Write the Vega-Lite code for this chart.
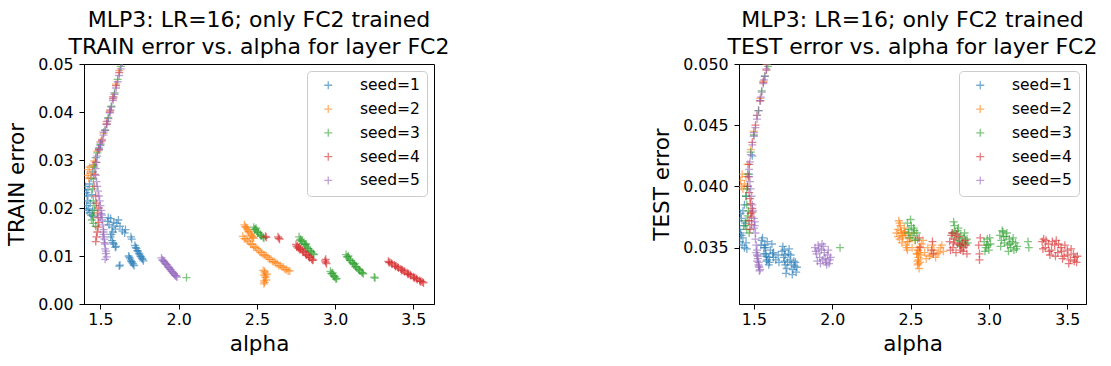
{
"$schema":"https://vega.github.io/schema/vega-lite/v6.json",
"background":"white",
"padding":{"left":6,"top":8,"right":5,"bottom":5},
"datasets":{"pts":[
{"s":"seed=1","a":1.405,"tr":0.0245,"te":0.0372},{"s":"seed=1","a":1.41,"tr":0.0232,"te":0.0365},{"s":"seed=1","a":1.415,"tr":0.0225,"te":0.0378},{"s":"seed=1","a":1.42,"tr":0.0215,"te":0.036},{"s":"seed=1","a":1.41,"tr":0.0205,"te":0.0355},{"s":"seed=1","a":1.425,"tr":0.0198,"te":0.0352},{"s":"seed=1","a":1.43,"tr":0.019,"te":0.0358},{"s":"seed=1","a":1.44,"tr":0.0185,"te":0.035},{"s":"seed=1","a":1.435,"tr":0.021,"te":0.0368},{"s":"seed=1","a":1.45,"tr":0.0195,"te":0.0354},{"s":"seed=1","a":1.42,"tr":0.0238,"te":0.0374},{"s":"seed=1","a":1.43,"tr":0.025,"te":0.038},{"s":"seed=1","a":1.44,"tr":0.0262,"te":0.0385},{"s":"seed=1","a":1.45,"tr":0.0275,"te":0.0392},{"s":"seed=1","a":1.46,"tr":0.029,"te":0.04},{"s":"seed=1","a":1.47,"tr":0.0305,"te":0.041},{"s":"seed=1","a":1.49,"tr":0.0325,"te":0.0425},{"s":"seed=1","a":1.455,"tr":0.0182,"te":0.0349},{"s":"seed=1","a":1.415,"tr":0.0195,"te":0.0362},{"s":"seed=1","a":1.445,"tr":0.0228,"te":0.037},
{"s":"seed=1","a":1.545,"tr":0.0172,"te":0.0352},{"s":"seed=1","a":1.555,"tr":0.0165,"te":0.0358},{"s":"seed=1","a":1.565,"tr":0.0178,"te":0.0345},{"s":"seed=1","a":1.575,"tr":0.016,"te":0.035},{"s":"seed=1","a":1.585,"tr":0.017,"te":0.0355},{"s":"seed=1","a":1.595,"tr":0.0156,"te":0.0342},{"s":"seed=1","a":1.605,"tr":0.0168,"te":0.0348},{"s":"seed=1","a":1.615,"tr":0.0175,"te":0.0353},{"s":"seed=1","a":1.625,"tr":0.0162,"te":0.0346},{"s":"seed=1","a":1.64,"tr":0.0152,"te":0.034},{"s":"seed=1","a":1.655,"tr":0.0148,"te":0.0344},{"s":"seed=1","a":1.66,"tr":0.0155,"te":0.0338},{"s":"seed=1","a":1.55,"tr":0.018,"te":0.0356},{"s":"seed=1","a":1.58,"tr":0.015,"te":0.0339},
{"s":"seed=1","a":1.565,"tr":0.014,"te":0.035},{"s":"seed=1","a":1.575,"tr":0.0132,"te":0.0345},{"s":"seed=1","a":1.585,"tr":0.0125,"te":0.034},{"s":"seed=1","a":1.595,"tr":0.0118,"te":0.0336},{"s":"seed=1","a":1.57,"tr":0.0145,"te":0.0352},{"s":"seed=1","a":1.58,"tr":0.0128,"te":0.0343},{"s":"seed=1","a":1.6,"tr":0.012,"te":0.0338},
{"s":"seed=1","a":1.72,"tr":0.0122,"te":0.0345},{"s":"seed=1","a":1.73,"tr":0.0116,"te":0.034},{"s":"seed=1","a":1.74,"tr":0.011,"te":0.0336},{"s":"seed=1","a":1.75,"tr":0.0104,"te":0.0332},{"s":"seed=1","a":1.76,"tr":0.0098,"te":0.0335},{"s":"seed=1","a":1.77,"tr":0.0093,"te":0.033},{"s":"seed=1","a":1.725,"tr":0.0118,"te":0.0349},{"s":"seed=1","a":1.745,"tr":0.0106,"te":0.0328},{"s":"seed=1","a":1.765,"tr":0.0095,"te":0.0338},{"s":"seed=1","a":1.68,"tr":0.01,"te":0.0347},{"s":"seed=1","a":1.69,"tr":0.0094,"te":0.0342},{"s":"seed=1","a":1.7,"tr":0.0088,"te":0.0336},{"s":"seed=1","a":1.71,"tr":0.0083,"te":0.0333},{"s":"seed=1","a":1.685,"tr":0.0097,"te":0.0351},{"s":"seed=1","a":1.705,"tr":0.0085,"te":0.0329},
{"s":"seed=1","a":1.735,"tr":0.0111,"te":0.0344},{"s":"seed=1","a":1.755,"tr":0.01,"te":0.0339},{"s":"seed=1","a":1.775,"tr":0.009,"te":0.0334},{"s":"seed=1","a":1.695,"tr":0.009,"te":0.0339},{"s":"seed=1","a":1.715,"tr":0.008,"te":0.0338},
{"s":"seed=1","a":1.62,"tr":0.0079,"te":0.0345},{"s":"seed=1","a":1.625,"tr":0.0081,"te":0.0342},{"s":"seed=1","a":1.695,"tr":0.014,"te":0.0348},{"s":"seed=1","a":1.7,"tr":0.0135,"te":0.0344},
{"s":"seed=2","a":1.415,"tr":0.0268,"te":0.0405},{"s":"seed=2","a":1.42,"tr":0.028,"te":0.04},{"s":"seed=2","a":1.425,"tr":0.0262,"te":0.041},{"s":"seed=2","a":1.43,"tr":0.0285,"te":0.0398},{"s":"seed=2","a":1.44,"tr":0.0272,"te":0.0402},{"s":"seed=2","a":1.45,"tr":0.0288,"te":0.0408},{"s":"seed=2","a":1.46,"tr":0.0298,"te":0.0418},{"s":"seed=2","a":1.48,"tr":0.0318,"te":0.043},{"s":"seed=2","a":1.5,"tr":0.0338,"te":0.0445},{"s":"seed=2","a":1.52,"tr":0.0356,"te":0.0458},{"s":"seed=2","a":1.54,"tr":0.038,"te":0.0472},{"s":"seed=2","a":1.56,"tr":0.0404,"te":0.0486},{"s":"seed=2","a":1.58,"tr":0.0432,"te":0.05},{"s":"seed=2","a":1.6,"tr":0.0458,"te":0.052},{"s":"seed=2","a":1.62,"tr":0.0486,"te":0.054},
{"s":"seed=2","a":2.42,"tr":0.0165,"te":0.0365},{"s":"seed=2","a":2.43,"tr":0.016,"te":0.037},{"s":"seed=2","a":2.44,"tr":0.0155,"te":0.0362},{"s":"seed=2","a":2.45,"tr":0.015,"te":0.0358},{"s":"seed=2","a":2.46,"tr":0.0146,"te":0.0366},{"s":"seed=2","a":2.47,"tr":0.0141,"te":0.036},{"s":"seed=2","a":2.48,"tr":0.0137,"te":0.0355},{"s":"seed=2","a":2.435,"tr":0.0158,"te":0.0368},
{"s":"seed=2","a":2.425,"tr":0.0161,"te":0.0372},{"s":"seed=2","a":2.445,"tr":0.0151,"te":0.0354},{"s":"seed=2","a":2.465,"tr":0.0143,"te":0.0362},{"s":"seed=2","a":2.475,"tr":0.0139,"te":0.035},
{"s":"seed=2","a":2.41,"tr":0.0141,"te":0.0362},{"s":"seed=2","a":2.43,"tr":0.0136,"te":0.0357},{"s":"seed=2","a":2.45,"tr":0.013,"te":0.036},{"s":"seed=2","a":2.47,"tr":0.0124,"te":0.0352},{"s":"seed=2","a":2.49,"tr":0.0118,"te":0.0355},{"s":"seed=2","a":2.51,"tr":0.0112,"te":0.035},{"s":"seed=2","a":2.53,"tr":0.0107,"te":0.0356},{"s":"seed=2","a":2.55,"tr":0.0102,"te":0.0348},{"s":"seed=2","a":2.57,"tr":0.0097,"te":0.0353},{"s":"seed=2","a":2.59,"tr":0.0093,"te":0.0346},{"s":"seed=2","a":2.61,"tr":0.0088,"te":0.035},{"s":"seed=2","a":2.63,"tr":0.0084,"te":0.0344},{"s":"seed=2","a":2.65,"tr":0.008,"te":0.0348},{"s":"seed=2","a":2.67,"tr":0.0076,"te":0.0345},{"s":"seed=2","a":2.69,"tr":0.0072,"te":0.035},{"s":"seed=2","a":2.71,"tr":0.0069,"te":0.0347},{"s":"seed=2","a":2.44,"tr":0.0133,"te":0.0364},{"s":"seed=2","a":2.5,"tr":0.0116,"te":0.0358},{"s":"seed=2","a":2.56,"tr":0.01,"te":0.0351},{"s":"seed=2","a":2.62,"tr":0.0086,"te":0.0343},
{"s":"seed=2","a":2.42,"tr":0.0136,"te":0.0359},{"s":"seed=2","a":2.46,"tr":0.0125,"te":0.0363},{"s":"seed=2","a":2.48,"tr":0.0119,"te":0.0348},{"s":"seed=2","a":2.52,"tr":0.0108,"te":0.0362},{"s":"seed=2","a":2.54,"tr":0.0103,"te":0.0345},{"s":"seed=2","a":2.58,"tr":0.0093,"te":0.0356},{"s":"seed=2","a":2.6,"tr":0.0089,"te":0.0341},{"s":"seed=2","a":2.64,"tr":0.008,"te":0.0352},{"s":"seed=2","a":2.66,"tr":0.0077,"te":0.0342},{"s":"seed=2","a":2.68,"tr":0.0072,"te":0.0346},{"s":"seed=2","a":2.7,"tr":0.0069,"te":0.0352},
{"s":"seed=2","a":2.54,"tr":0.007,"te":0.0345},{"s":"seed=2","a":2.55,"tr":0.0065,"te":0.034},{"s":"seed=2","a":2.545,"tr":0.006,"te":0.0336},{"s":"seed=2","a":2.555,"tr":0.0055,"te":0.0333},{"s":"seed=2","a":2.56,"tr":0.005,"te":0.0338},{"s":"seed=2","a":2.55,"tr":0.0045,"te":0.0342},{"s":"seed=2","a":2.545,"tr":0.0042,"te":0.0348},{"s":"seed=2","a":2.565,"tr":0.0062,"te":0.0344},{"s":"seed=2","a":2.55,"tr":0.0068,"te":0.0337},{"s":"seed=2","a":2.555,"tr":0.0058,"te":0.0346},{"s":"seed=2","a":2.545,"tr":0.0048,"te":0.0339},
{"s":"seed=3","a":1.445,"tr":0.0175,"te":0.0368},{"s":"seed=3","a":1.45,"tr":0.0185,"te":0.0372},{"s":"seed=3","a":1.455,"tr":0.0168,"te":0.0365},{"s":"seed=3","a":1.46,"tr":0.0195,"te":0.0376},{"s":"seed=3","a":1.47,"tr":0.0162,"te":0.0362},{"s":"seed=3","a":1.465,"tr":0.0205,"te":0.038},{"s":"seed=3","a":1.455,"tr":0.0215,"te":0.0385},{"s":"seed=3","a":1.45,"tr":0.024,"te":0.0392},{"s":"seed=3","a":1.455,"tr":0.026,"te":0.0398},{"s":"seed=3","a":1.46,"tr":0.0285,"te":0.041},{"s":"seed=3","a":1.48,"tr":0.0315,"te":0.0428},{"s":"seed=3","a":1.5,"tr":0.0332,"te":0.0442},{"s":"seed=3","a":1.53,"tr":0.0362,"te":0.0462},{"s":"seed=3","a":1.55,"tr":0.0388,"te":0.0478},{"s":"seed=3","a":1.57,"tr":0.0412,"te":0.049},{"s":"seed=3","a":1.59,"tr":0.044,"te":0.0498},{"s":"seed=3","a":1.61,"tr":0.0468,"te":0.0525},{"s":"seed=3","a":1.63,"tr":0.0495,"te":0.055},{"s":"seed=3","a":1.65,"tr":0.0515,"te":0.057},
{"s":"seed=3","a":2.48,"tr":0.016,"te":0.037},{"s":"seed=3","a":2.49,"tr":0.0156,"te":0.0365},{"s":"seed=3","a":2.5,"tr":0.0152,"te":0.0373},{"s":"seed=3","a":2.51,"tr":0.0149,"te":0.036},{"s":"seed=3","a":2.52,"tr":0.0145,"te":0.0366},{"s":"seed=3","a":2.53,"tr":0.0142,"te":0.0356},{"s":"seed=3","a":2.54,"tr":0.0139,"te":0.0362},{"s":"seed=3","a":2.495,"tr":0.0158,"te":0.0358},
{"s":"seed=3","a":2.485,"tr":0.0155,"te":0.0362},{"s":"seed=3","a":2.505,"tr":0.0148,"te":0.0368},{"s":"seed=3","a":2.525,"tr":0.0142,"te":0.0364},{"s":"seed=3","a":2.545,"tr":0.0137,"te":0.0357},
{"s":"seed=3","a":2.77,"tr":0.014,"te":0.0362},{"s":"seed=3","a":2.78,"tr":0.0135,"te":0.0368},{"s":"seed=3","a":2.79,"tr":0.0131,"te":0.0358},{"s":"seed=3","a":2.8,"tr":0.0127,"te":0.0364},{"s":"seed=3","a":2.81,"tr":0.0123,"te":0.0356},{"s":"seed=3","a":2.82,"tr":0.0119,"te":0.036},{"s":"seed=3","a":2.83,"tr":0.0115,"te":0.0355},{"s":"seed=3","a":2.84,"tr":0.0111,"te":0.0358},{"s":"seed=3","a":2.85,"tr":0.0108,"te":0.0353},{"s":"seed=3","a":2.86,"tr":0.0105,"te":0.0357},{"s":"seed=3","a":2.775,"tr":0.0133,"te":0.0371},{"s":"seed=3","a":2.815,"tr":0.0125,"te":0.0352},
{"s":"seed=3","a":2.785,"tr":0.0131,"te":0.0363},{"s":"seed=3","a":2.805,"tr":0.0124,"te":0.0366},{"s":"seed=3","a":2.825,"tr":0.0116,"te":0.0351},{"s":"seed=3","a":2.845,"tr":0.0109,"te":0.0362},{"s":"seed=3","a":2.865,"tr":0.0103,"te":0.0354},
{"s":"seed=3","a":2.97,"tr":0.0068,"te":0.0355},{"s":"seed=3","a":2.98,"tr":0.0063,"te":0.035},{"s":"seed=3","a":2.99,"tr":0.0059,"te":0.0357},{"s":"seed=3","a":3.0,"tr":0.0056,"te":0.0348},{"s":"seed=3","a":3.01,"tr":0.0053,"te":0.0353},{"s":"seed=3","a":2.985,"tr":0.0065,"te":0.0352},{"s":"seed=3","a":2.975,"tr":0.0064,"te":0.0347},{"s":"seed=3","a":2.995,"tr":0.0057,"te":0.0352},{"s":"seed=3","a":3.005,"tr":0.0052,"te":0.0358},
{"s":"seed=3","a":3.07,"tr":0.0103,"te":0.036},{"s":"seed=3","a":3.08,"tr":0.0098,"te":0.0356},{"s":"seed=3","a":3.09,"tr":0.0094,"te":0.0363},{"s":"seed=3","a":3.1,"tr":0.009,"te":0.0354},{"s":"seed=3","a":3.11,"tr":0.0086,"te":0.0359},{"s":"seed=3","a":3.12,"tr":0.0082,"te":0.0352},{"s":"seed=3","a":3.13,"tr":0.0078,"te":0.0357},{"s":"seed=3","a":3.14,"tr":0.0075,"te":0.035},{"s":"seed=3","a":3.15,"tr":0.0072,"te":0.0355},{"s":"seed=3","a":3.16,"tr":0.0069,"te":0.0348},{"s":"seed=3","a":3.17,"tr":0.0066,"te":0.0354},{"s":"seed=3","a":3.18,"tr":0.0063,"te":0.0351},{"s":"seed=3","a":3.085,"tr":0.01,"te":0.0364},{"s":"seed=3","a":3.125,"tr":0.0084,"te":0.0347},
{"s":"seed=3","a":3.075,"tr":0.0098,"te":0.0351},{"s":"seed=3","a":3.095,"tr":0.0091,"te":0.0359},{"s":"seed=3","a":3.115,"tr":0.0085,"te":0.0362},{"s":"seed=3","a":3.135,"tr":0.0078,"te":0.0353},{"s":"seed=3","a":3.155,"tr":0.0071,"te":0.0358},{"s":"seed=3","a":3.175,"tr":0.0065,"te":0.0349},
{"s":"seed=3","a":3.25,"tr":0.0056,"te":0.0355},{"s":"seed=3","a":3.255,"tr":0.0054,"te":0.035},{"s":"seed=3","a":2.05,"tr":0.0055,"te":0.035},
{"s":"seed=4","a":1.47,"tr":0.013,"te":0.0372},{"s":"seed=4","a":1.475,"tr":0.014,"te":0.0365},{"s":"seed=4","a":1.48,"tr":0.015,"te":0.0378},{"s":"seed=4","a":1.485,"tr":0.016,"te":0.0369},{"s":"seed=4","a":1.49,"tr":0.017,"te":0.0382},{"s":"seed=4","a":1.485,"tr":0.018,"te":0.0375},{"s":"seed=4","a":1.48,"tr":0.019,"te":0.0386},{"s":"seed=4","a":1.49,"tr":0.02,"te":0.0379},{"s":"seed=4","a":1.475,"tr":0.021,"te":0.039},{"s":"seed=4","a":1.47,"tr":0.0225,"te":0.0395},{"s":"seed=4","a":1.46,"tr":0.0245,"te":0.04},{"s":"seed=4","a":1.465,"tr":0.027,"te":0.0408},{"s":"seed=4","a":1.47,"tr":0.0295,"te":0.0418},{"s":"seed=4","a":1.49,"tr":0.0322,"te":0.0436},{"s":"seed=4","a":1.51,"tr":0.0342,"te":0.045},{"s":"seed=4","a":1.54,"tr":0.0375,"te":0.047},{"s":"seed=4","a":1.56,"tr":0.04,"te":0.0485},{"s":"seed=4","a":1.58,"tr":0.0428,"te":0.0495},{"s":"seed=4","a":1.6,"tr":0.0455,"te":0.051},{"s":"seed=4","a":1.62,"tr":0.0482,"te":0.053},
{"s":"seed=4","a":2.555,"tr":0.0141,"te":0.0358},{"s":"seed=4","a":2.56,"tr":0.0139,"te":0.035},{"s":"seed=4","a":2.64,"tr":0.0137,"te":0.0355},{"s":"seed=4","a":2.645,"tr":0.0135,"te":0.0345},{"s":"seed=4","a":2.635,"tr":0.014,"te":0.0348},
{"s":"seed=4","a":2.75,"tr":0.0124,"te":0.0355},{"s":"seed=4","a":2.76,"tr":0.0121,"te":0.036},{"s":"seed=4","a":2.77,"tr":0.0118,"te":0.035},{"s":"seed=4","a":2.78,"tr":0.0115,"te":0.0357},{"s":"seed=4","a":2.79,"tr":0.0112,"te":0.0346},{"s":"seed=4","a":2.8,"tr":0.0109,"te":0.0353},{"s":"seed=4","a":2.81,"tr":0.0106,"te":0.0359},{"s":"seed=4","a":2.82,"tr":0.0103,"te":0.0348},{"s":"seed=4","a":2.83,"tr":0.01,"te":0.0354},{"s":"seed=4","a":2.84,"tr":0.0097,"te":0.035},{"s":"seed=4","a":2.85,"tr":0.0094,"te":0.0356},{"s":"seed=4","a":2.86,"tr":0.0092,"te":0.0345},{"s":"seed=4","a":2.765,"tr":0.0116,"te":0.0362},
{"s":"seed=4","a":2.755,"tr":0.0119,"te":0.0348},{"s":"seed=4","a":2.775,"tr":0.0113,"te":0.0354},{"s":"seed=4","a":2.795,"tr":0.0108,"te":0.0361},{"s":"seed=4","a":2.815,"tr":0.0102,"te":0.0352},{"s":"seed=4","a":2.835,"tr":0.0097,"te":0.0347},{"s":"seed=4","a":2.855,"tr":0.0091,"te":0.0352},
{"s":"seed=4","a":2.935,"tr":0.009,"te":0.0352},{"s":"seed=4","a":2.94,"tr":0.0087,"te":0.0345},{"s":"seed=4","a":2.945,"tr":0.0084,"te":0.0358},{"s":"seed=4","a":2.94,"tr":0.0093,"te":0.034},
{"s":"seed=4","a":3.34,"tr":0.0089,"te":0.0355},{"s":"seed=4","a":3.36,"tr":0.0085,"te":0.035},{"s":"seed=4","a":3.38,"tr":0.0081,"te":0.0353},{"s":"seed=4","a":3.4,"tr":0.0077,"te":0.0348},{"s":"seed=4","a":3.42,"tr":0.0073,"te":0.0352},{"s":"seed=4","a":3.44,"tr":0.0069,"te":0.0346},{"s":"seed=4","a":3.46,"tr":0.0065,"te":0.035},{"s":"seed=4","a":3.48,"tr":0.0061,"te":0.0343},{"s":"seed=4","a":3.5,"tr":0.0057,"te":0.0348},{"s":"seed=4","a":3.52,"tr":0.0053,"te":0.034},{"s":"seed=4","a":3.54,"tr":0.0049,"te":0.0345},{"s":"seed=4","a":3.56,"tr":0.0046,"te":0.0338},{"s":"seed=4","a":3.35,"tr":0.0087,"te":0.0357},{"s":"seed=4","a":3.39,"tr":0.0079,"te":0.0344},{"s":"seed=4","a":3.43,"tr":0.0071,"te":0.0356},{"s":"seed=4","a":3.47,"tr":0.0063,"te":0.0341},{"s":"seed=4","a":3.51,"tr":0.0055,"te":0.0337},{"s":"seed=4","a":3.55,"tr":0.0047,"te":0.0342},
{"s":"seed=4","a":3.345,"tr":0.0086,"te":0.0349},{"s":"seed=4","a":3.365,"tr":0.0083,"te":0.0356},{"s":"seed=4","a":3.385,"tr":0.0078,"te":0.0347},{"s":"seed=4","a":3.405,"tr":0.0075,"te":0.0355},{"s":"seed=4","a":3.425,"tr":0.007,"te":0.0343},{"s":"seed=4","a":3.445,"tr":0.0067,"te":0.0353},{"s":"seed=4","a":3.465,"tr":0.0062,"te":0.0347},{"s":"seed=4","a":3.485,"tr":0.0059,"te":0.0352},{"s":"seed=4","a":3.505,"tr":0.0054,"te":0.0344},{"s":"seed=4","a":3.525,"tr":0.0051,"te":0.0349},{"s":"seed=4","a":3.545,"tr":0.0047,"te":0.0339},{"s":"seed=4","a":3.565,"tr":0.0044,"te":0.0343},
{"s":"seed=5","a":1.485,"tr":0.0235,"te":0.0392},{"s":"seed=5","a":1.49,"tr":0.0225,"te":0.0385},{"s":"seed=5","a":1.495,"tr":0.0215,"te":0.038},{"s":"seed=5","a":1.5,"tr":0.0205,"te":0.0374},{"s":"seed=5","a":1.505,"tr":0.0195,"te":0.0368},{"s":"seed=5","a":1.51,"tr":0.0185,"te":0.0362},{"s":"seed=5","a":1.51,"tr":0.0175,"te":0.0357},{"s":"seed=5","a":1.515,"tr":0.0165,"te":0.0352},{"s":"seed=5","a":1.52,"tr":0.0155,"te":0.0348},{"s":"seed=5","a":1.52,"tr":0.0145,"te":0.0344},{"s":"seed=5","a":1.525,"tr":0.0135,"te":0.0341},{"s":"seed=5","a":1.53,"tr":0.0125,"te":0.0338},{"s":"seed=5","a":1.53,"tr":0.0115,"te":0.0336},{"s":"seed=5","a":1.535,"tr":0.0105,"te":0.0334},{"s":"seed=5","a":1.54,"tr":0.0098,"te":0.0332},{"s":"seed=5","a":1.53,"tr":0.0093,"te":0.0335},{"s":"seed=5","a":1.5,"tr":0.018,"te":0.0366},{"s":"seed=5","a":1.515,"tr":0.014,"te":0.0346},
{"s":"seed=5","a":1.505,"tr":0.0188,"te":0.0371},{"s":"seed=5","a":1.52,"tr":0.015,"te":0.0339},{"s":"seed=5","a":1.525,"tr":0.0128,"te":0.0343},{"s":"seed=5","a":1.535,"tr":0.011,"te":0.0331},
{"s":"seed=5","a":1.48,"tr":0.0245,"te":0.0398},{"s":"seed=5","a":1.475,"tr":0.0255,"te":0.0404},{"s":"seed=5","a":1.47,"tr":0.0268,"te":0.0408},{"s":"seed=5","a":1.47,"tr":0.0282,"te":0.0414},{"s":"seed=5","a":1.475,"tr":0.0295,"te":0.042},{"s":"seed=5","a":1.48,"tr":0.0308,"te":0.0426},{"s":"seed=5","a":1.49,"tr":0.032,"te":0.0434},{"s":"seed=5","a":1.5,"tr":0.033,"te":0.0441},{"s":"seed=5","a":1.51,"tr":0.034,"te":0.0448},{"s":"seed=5","a":1.52,"tr":0.0352,"te":0.0455},{"s":"seed=5","a":1.53,"tr":0.0362,"te":0.0462},{"s":"seed=5","a":1.54,"tr":0.0374,"te":0.047},{"s":"seed=5","a":1.55,"tr":0.0386,"te":0.0477},{"s":"seed=5","a":1.56,"tr":0.0398,"te":0.0484},{"s":"seed=5","a":1.57,"tr":0.041,"te":0.049},{"s":"seed=5","a":1.58,"tr":0.0424,"te":0.0496},{"s":"seed=5","a":1.59,"tr":0.0437,"te":0.0505},{"s":"seed=5","a":1.6,"tr":0.045,"te":0.0515},{"s":"seed=5","a":1.61,"tr":0.0463,"te":0.0525},{"s":"seed=5","a":1.62,"tr":0.0476,"te":0.0535},{"s":"seed=5","a":1.63,"tr":0.049,"te":0.0545},{"s":"seed=5","a":1.64,"tr":0.0503,"te":0.0555},
{"s":"seed=5","a":1.5,"tr":0.0335,"te":0.0444},{"s":"seed=5","a":1.52,"tr":0.0358,"te":0.0458},{"s":"seed=5","a":1.545,"tr":0.0381,"te":0.0473},{"s":"seed=5","a":1.565,"tr":0.0404,"te":0.0487},{"s":"seed=5","a":1.585,"tr":0.0431,"te":0.05},
{"s":"seed=5","a":1.89,"tr":0.0096,"te":0.035},{"s":"seed=5","a":1.9,"tr":0.0091,"te":0.0345},{"s":"seed=5","a":1.91,"tr":0.0087,"te":0.0352},{"s":"seed=5","a":1.92,"tr":0.0083,"te":0.0342},{"s":"seed=5","a":1.93,"tr":0.0079,"te":0.0348},{"s":"seed=5","a":1.94,"tr":0.0075,"te":0.034},{"s":"seed=5","a":1.95,"tr":0.0071,"te":0.0346},{"s":"seed=5","a":1.96,"tr":0.0067,"te":0.0338},{"s":"seed=5","a":1.97,"tr":0.0063,"te":0.0344},{"s":"seed=5","a":1.98,"tr":0.0059,"te":0.0337},{"s":"seed=5","a":1.99,"tr":0.0056,"te":0.0342},{"s":"seed=5","a":1.905,"tr":0.0089,"te":0.0339},{"s":"seed=5","a":1.935,"tr":0.0077,"te":0.0353},{"s":"seed=5","a":1.965,"tr":0.0065,"te":0.0336},
{"s":"seed=5","a":1.895,"tr":0.0092,"te":0.0347},{"s":"seed=5","a":1.915,"tr":0.0084,"te":0.0349},{"s":"seed=5","a":1.925,"tr":0.0082,"te":0.0337},{"s":"seed=5","a":1.945,"tr":0.0072,"te":0.0351},{"s":"seed=5","a":1.955,"tr":0.0068,"te":0.0341},{"s":"seed=5","a":1.975,"tr":0.006,"te":0.0348},{"s":"seed=5","a":1.985,"tr":0.0058,"te":0.034}
]},
"data":{"name":"pts"},
"hconcat":[
{"width":350,"height":240,
 "title":{"text":["MLP3: LR=16; only FC2 trained","TRAIN error vs. alpha for layer FC2"]},
 "mark":{"type":"point","shape":"M-1,0L1,0M0,-1L0,1","filled":false,"strokeWidth":1.3,"size":64,"opacity":0.6,"clip":true},
 "encoding":{
  "x":{"field":"a","type":"quantitative","scale":{"domain":[1.395,3.632],"nice":false,"zero":false},"axis":{"values":[1.5,2,2.5,3,3.5],"format":".1f","title":"alpha"}},
  "y":{"field":"tr","type":"quantitative","scale":{"domain":[0,0.05],"nice":false,"zero":false},"axis":{"values":[0,0.01,0.02,0.03,0.04,0.05],"format":".2f","title":"TRAIN error"}},
  "color":{"field":"s","type":"nominal","scale":{"domain":["seed=1","seed=2","seed=3","seed=4","seed=5"],"range":["#1f77b4","#ff7f0e","#2ca02c","#d62728","#9467bd"]},"legend":{"title":null,"orient":"top-right"}}
 }},
{"width":347,"height":240,
 "title":{"text":["MLP3: LR=16; only FC2 trained","TEST error vs. alpha for layer FC2"]},
 "mark":{"type":"point","shape":"M-1,0L1,0M0,-1L0,1","filled":false,"strokeWidth":1.3,"size":64,"opacity":0.6,"clip":true},
 "encoding":{
  "x":{"field":"a","type":"quantitative","scale":{"domain":[1.405,3.62],"nice":false,"zero":false},"axis":{"values":[1.5,2,2.5,3,3.5],"format":".1f","title":"alpha"}},
  "y":{"field":"te","type":"quantitative","scale":{"domain":[0.0304,0.05],"nice":false,"zero":false},"axis":{"values":[0.035,0.04,0.045,0.05],"format":".3f","title":"TEST error"}},
  "color":{"field":"s","type":"nominal","scale":{"domain":["seed=1","seed=2","seed=3","seed=4","seed=5"],"range":["#1f77b4","#ff7f0e","#2ca02c","#d62728","#9467bd"]},"legend":{"title":null,"orient":"top-right"}}
 }}
],
"spacing":305,
"bounds":"flush",
"resolve":{"scale":{"x":"independent","y":"independent"},"legend":{"color":"independent"}},
"config":{
 "font":"DejaVu Sans",
 "view":{"stroke":"black","strokeWidth":1},
 "axis":{"grid":false,"domainColor":"black","tickColor":"black","labelColor":"black","titleColor":"black","labelFontSize":15.8,"titleFontSize":21.5,"titleFontWeight":"normal","tickSize":5,"labelFlush":false,"labelOverlap":false},
 "axisX":{"titlePadding":7,"labelPadding":3,"labelAngle":0},
 "axisY":{"titlePadding":9,"labelPadding":6},
 "title":{"fontSize":22,"fontWeight":"normal","color":"black","anchor":"middle","offset":-3,"lineHeight":27},
 "legend":{"labelFontSize":15.5,"labelColor":"black","strokeColor":"#cccccc","fillColor":"rgba(255,255,255,0.8)","cornerRadius":4,"padding":6.5,"offset":7,"rowPadding":6.8,"labelOffset":24,"symbolOffset":7,"symbolSize":64,"symbolStrokeWidth":1.3,"symbolOpacity":0.6,"symbolType":"M-1,0L1,0M0,-1L0,1"}
}
}
